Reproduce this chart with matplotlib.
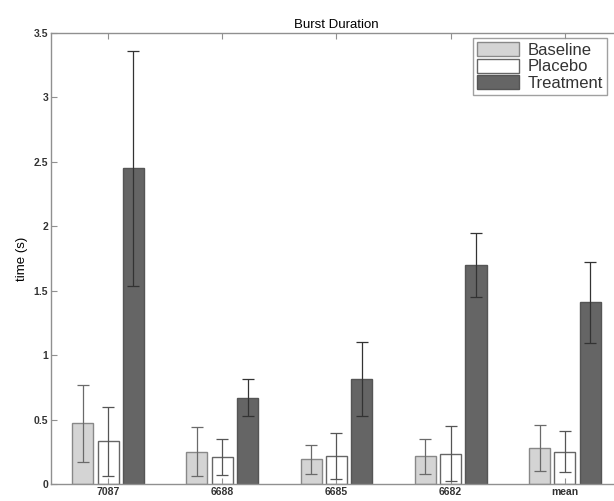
import matplotlib
matplotlib.use("Agg")
import matplotlib.pyplot as plt
import numpy as np

# data
groups = ["7087", "6688", "6685", "6682", "mean"]
baseline = [0.47, 0.25, 0.19, 0.215, 0.28]
baseline_err = [0.30, 0.19, 0.11, 0.135, 0.18]
placebo = [0.33, 0.21, 0.215, 0.235, 0.25]
placebo_err = [0.27, 0.14, 0.18, 0.215, 0.16]
treatment = [2.45, 0.67, 0.815, 1.70, 1.41]
treatment_err = [0.91, 0.145, 0.285, 0.25, 0.315]
yticks = [0, 0.5, 1, 1.5, 2, 2.5, 3, 3.5]

plt.rcParams["font.family"] = ["Liberation Sans", "DejaVu Sans"]

fig = plt.figure(figsize=(6.14, 5.01), dpi=100)
# axes runs past the right edge of the figure (reference is cropped)
ax = fig.add_axes([0.083, 0.034, 0.93, 0.900])

x = np.arange(1, len(groups) + 1)
w = 0.185
off = 0.222
spine_col = "#909090"

series = [
    (baseline, baseline_err, -off, "#d4d4d4", "#888888", "Baseline", "#6a6a6a"),
    (placebo, placebo_err, 0, "white", "#666666", "Placebo", "#555555"),
    (treatment, treatment_err, off, "#656565", "#555555", "Treatment", "#333333"),
]
for vals, errs, dx, fc, ec, lab, errc in series:
    ax.bar(x + dx, vals, w, color=fc, edgecolor=ec, linewidth=1.0, label=lab)
    ax.errorbar(x + dx, vals, yerr=errs, fmt="none", ecolor=errc,
                elinewidth=0.9, capsize=4, capthick=0.9)

ax.set_xlim(0.5, 5.5)
ax.set_ylim(0, 3.5)
ax.set_xticks(x)
ax.set_xticklabels(groups, fontsize=7.5, fontweight="bold", color="#333333")
ax.set_yticks(yticks)
ax.set_yticklabels([("%g" % t) for t in yticks], fontsize=7.5,
                   fontweight="bold", color="#333333")
ax.tick_params(direction="in", length=4, color=spine_col, top=True,
               right=False, pad=2)
for s in ax.spines.values():
    s.set_color(spine_col)
    s.set_linewidth(1.0)

ax.set_ylabel("time (s)", fontsize=9.5, labelpad=4)
ax.set_title("Burst Duration", fontsize=9.5, pad=4)

leg = ax.legend(loc="upper left", bbox_to_anchor=(473 / 614, 1 - 38 / 501),
                bbox_transform=fig.transFigure, fontsize=12, frameon=True,
                fancybox=False, edgecolor="#888888", handlelength=2.5,
                handleheight=0.9, handletextpad=0.5, labelspacing=0.05,
                borderpad=0.25, borderaxespad=0)
leg.get_frame().set_linewidth(1.0)
for t in leg.get_texts():
    t.set_color("#333333")

fig.savefig("out.png", dpi=100)
